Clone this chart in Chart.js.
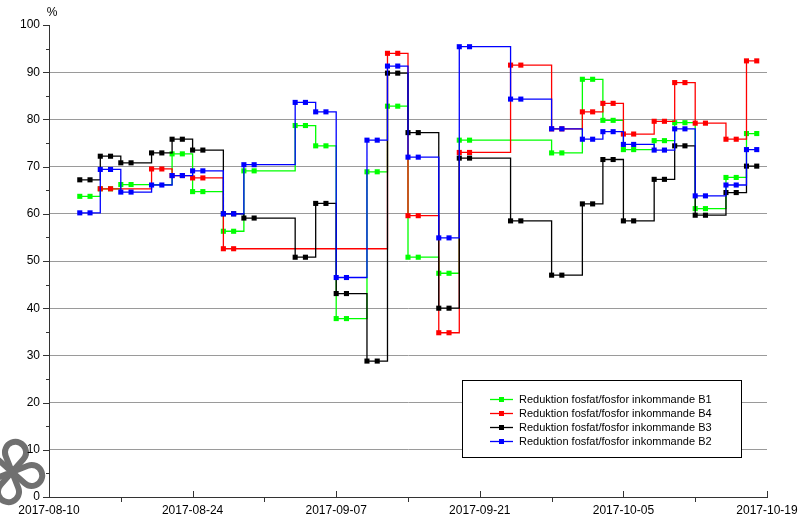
<!DOCTYPE html>
<html>
<head>
<meta charset="utf-8">
<script src="https://cdn.jsdelivr.net/npm/chart.js@4.4.0/dist/chart.umd.min.js"></script>
<style>
  html, body { margin: 0; padding: 0; background: #fff; }
  #wrap { width: 807px; height: 519px; }
</style>
</head>
<body>
<div id="wrap"><canvas id="chart" width="807" height="519"></canvas></div>
<script>
// Sampling days, counted from 2017-08-10 (day 0); each sample covers one day.
const b1Days = [3, 5, 7, 12, 14, 17, 19, 24, 26, 28, 31, 33, 35, 38, 40, 49, 52, 54, 56, 59, 61, 63, 66, 68];
const b1Values = [63.7, 65.3, 66.2, 72.7, 64.7, 56.3, 69.1, 78.7, 74.4, 37.8, 68.9, 82.8, 50.8, 47.4, 75.6, 72.9, 88.5, 79.8, 73.6, 75.5, 79.3, 61.1, 67.7, 77.0];

const b4Days = [5, 10, 12, 14, 17, 33, 35, 38, 40, 45, 49, 52, 54, 56, 59, 61, 63, 66, 68];
const b4Values = [65.3, 69.5, 68.1, 67.6, 52.6, 94.0, 59.6, 34.8, 73.0, 91.5, 78.0, 81.6, 83.4, 76.9, 79.6, 87.8, 79.2, 75.8, 92.4];

const b3Days = [3, 5, 7, 10, 12, 14, 17, 19, 24, 26, 28, 31, 33, 35, 38, 40, 45, 49, 52, 54, 56, 59, 61, 63, 66, 68];
const b3Values = [67.2, 72.2, 70.8, 72.9, 75.8, 73.5, 60.0, 59.1, 50.8, 62.2, 43.1, 28.8, 89.8, 77.2, 40.0, 71.8, 58.5, 47.0, 62.1, 71.5, 58.5, 67.3, 74.4, 59.7, 64.5, 70.1];

const b2Days = [3, 5, 7, 10, 12, 14, 17, 19, 24, 26, 28, 31, 33, 35, 38, 40, 45, 49, 52, 54, 56, 59, 61, 63, 66, 68];
const b2Values = [60.2, 69.4, 64.6, 66.1, 68.1, 69.1, 60.0, 70.4, 83.6, 81.6, 46.5, 75.6, 91.3, 72.0, 54.9, 95.4, 84.3, 78.0, 75.8, 77.4, 74.7, 73.5, 78.0, 63.8, 66.1, 73.6];

const seriesLabels = [
  'Reduktion fosfat/fosfor inkommande B1',
  'Reduktion fosfat/fosfor inkommande B4',
  'Reduktion fosfat/fosfor inkommande B3',
  'Reduktion fosfat/fosfor inkommande B2'
];
const dateLabels = ['2017-08-10', '2017-08-24', '2017-09-07', '2017-09-21', '2017-10-05', '2017-10-19'];
const yUnit = '%';

const FONT = "'Liberation Sans', Arial, sans-serif";

// Each sample is drawn as a plateau from its start day to the following day.
function samplePoints(days, values) {
  const pts = [];
  days.forEach((d, i) => {
    pts.push({ x: d, y: values[i] });
    pts.push({ x: d + 1, y: values[i] });
  });
  return pts;
}

function series(label, days, values, color, order) {
  return {
    label,
    data: samplePoints(days, values),
    borderColor: color,
    backgroundColor: color,
    pointBackgroundColor: color,
    pointBorderColor: color,
    pointBorderWidth: 0,
    pointStyle: 'rect',
    pointRadius: 3.6,
    pointHoverRadius: 3.6,
    borderWidth: 1.3,
    stepped: true,
    fill: false,
    order
  };
}

const datasets = [
  series(seriesLabels[0], b1Days, b1Values, '#00ff00', 4),
  series(seriesLabels[1], b4Days, b4Values, '#ff0000', 3),
  series(seriesLabels[2], b3Days, b3Values, '#000000', 2),
  series(seriesLabels[3], b2Days, b2Values, '#0000ff', 1)
];

// four-loop emblem in the lower left corner
function drawLogo(ctx) {
  const ox = 12, oy = 472, d = 20, r = 10.5;
  const dirs = [-80, 10, 100, 190].map(a => a * Math.PI / 180);
  ctx.save();
  ctx.strokeStyle = '#707070';
  ctx.lineWidth = 6;
  ctx.lineJoin = 'round';
  dirs.forEach(t => {
    const cx = ox + d * Math.cos(t), cy = oy + d * Math.sin(t);
    const g = Math.acos(r / d);
    const a0 = t + Math.PI + g, a1 = t + 3 * Math.PI - g;
    ctx.beginPath();
    ctx.moveTo(ox, oy);
    ctx.lineTo(cx + r * Math.cos(a0), cy + r * Math.sin(a0));
    ctx.arc(cx, cy, r, a0, a1, false);
    ctx.closePath();
    ctx.stroke();
  });
  ctx.restore();
}

const decorations = {
  id: 'decorations',
  beforeDraw(chart) {
    drawLogo(chart.ctx);
  },
  afterDatasetsDraw(chart) {
    const ctx = chart.ctx;
    // boxed legend inside the plot
    const bx = 462.5, by = 380.5, bw = 279, bh = 77;
    ctx.save();
    ctx.fillStyle = '#ffffff';
    ctx.fillRect(bx, by, bw, bh);
    ctx.strokeStyle = '#000';
    ctx.lineWidth = 1;
    ctx.strokeRect(bx, by, bw, bh);
    ctx.font = '11px ' + FONT;
    ctx.textBaseline = 'middle';
    ctx.textAlign = 'left';
    chart.data.datasets.forEach((ds, i) => {
      const y = 399.5 + i * 14;
      ctx.strokeStyle = ds.borderColor;
      ctx.lineWidth = 1.3;
      ctx.beginPath();
      ctx.moveTo(490, y);
      ctx.lineTo(513, y);
      ctx.stroke();
      ctx.fillStyle = ds.borderColor;
      ctx.fillRect(499, y - 2.5, 5, 5);
      ctx.fillStyle = '#000';
      ctx.fillText(ds.label, 519, y + 0.5);
    });
    ctx.restore();
  },
  afterDraw(chart) {
    const ctx = chart.ctx;
    const xs = chart.scales.x, ys = chart.scales.y;
    const area = chart.chartArea;
    ctx.save();
    ctx.strokeStyle = '#333';
    ctx.lineWidth = 1;
    // y axis ticks: majors every 10, minors every 5
    for (let v = 0; v <= 100; v += 5) {
      const y = Math.round(ys.getPixelForValue(v)) + 0.5;
      const len = v % 10 === 0 ? 6 : 3;
      ctx.beginPath();
      ctx.moveTo(area.left - len, y);
      ctx.lineTo(area.left, y);
      ctx.stroke();
    }
    // x axis ticks: majors every 14 days, minors in between
    for (let d = 0; d <= 70; d += 7) {
      const x = Math.round(xs.getPixelForValue(d)) + 0.5;
      ctx.beginPath();
      if (d % 14 === 0) {
        ctx.moveTo(x, area.bottom - 6);
        ctx.lineTo(x, area.bottom);
      } else {
        ctx.moveTo(x, area.bottom);
        ctx.lineTo(x, area.bottom + 5);
      }
      ctx.stroke();
    }
    // unit label above the value axis
    ctx.fillStyle = '#000';
    ctx.font = '12px ' + FONT;
    ctx.textAlign = 'center';
    ctx.textBaseline = 'middle';
    ctx.fillText(yUnit, area.left + 3, 13);
    ctx.restore();
  }
};

new Chart(document.getElementById('chart'), {
  type: 'line',
  data: { datasets },
  options: {
    responsive: false,
    animation: false,
    events: [],
    layout: { padding: { top: 25, right: 40, bottom: 0, left: 0 } },
    plugins: { legend: { display: false }, tooltip: { enabled: false } },
    scales: {
      x: {
        type: 'linear',
        min: 0,
        max: 70,
        grid: { display: false, drawTicks: false },
        border: { display: true, color: '#333', width: 1 },
        ticks: {
          stepSize: 7,
          autoSkip: false,
          maxRotation: 0,
          padding: 6,
          color: '#000',
          font: { family: FONT, size: 12 },
          callback: v => (v % 14 === 0 ? dateLabels[v / 14] : '')
        },
        afterFit(s) { s.height = 22; }
      },
      y: {
        min: 0,
        max: 100,
        grid: {
          drawTicks: false,
          lineWidth: 1,
          color: c => (c.tick && c.tick.value > 0 && c.tick.value < 100) ? '#9a9a9a' : 'rgba(0,0,0,0)'
        },
        border: { display: true, color: '#333', width: 1 },
        ticks: {
          stepSize: 10,
          padding: 9,
          color: '#000',
          font: { family: FONT, size: 12 }
        },
        afterFit(s) { s.width = 49; }
      }
    }
  },
  plugins: [decorations]
});
</script>
</body>
</html>
